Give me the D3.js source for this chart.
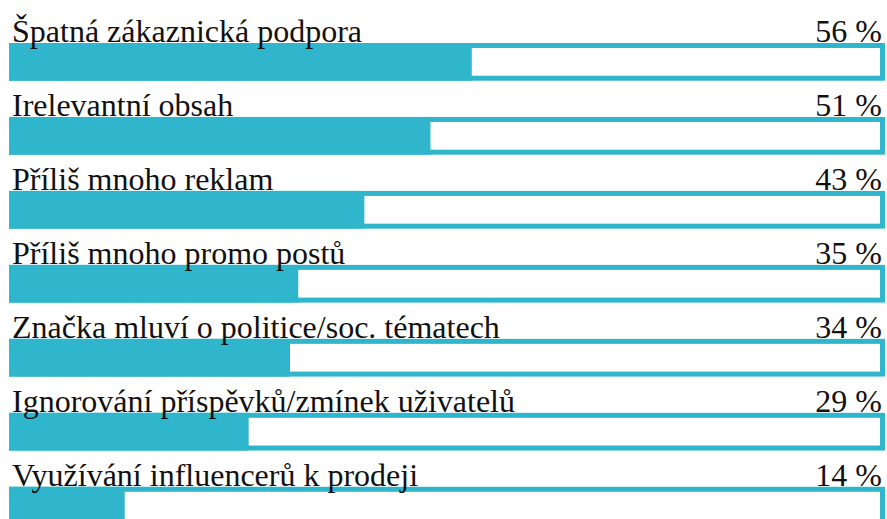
<!DOCTYPE html>
<html>
<head>
<meta charset="utf-8">
<script src="https://cdn.jsdelivr.net/npm/d3@7/dist/d3.min.js"></script>
<style>
  html, body { margin: 0; padding: 0; background: #ffffff; overflow: hidden; }
  svg { display: block; }
  text { font-family: "Liberation Serif", "Times New Roman", Times, "DejaVu Serif", serif; }
</style>
</head>
<body>
<svg id="chart" width="887" height="519"></svg>
<script>
const categories = [
  "Špatná zákaznická podpora",
  "Irelevantní obsah",
  "Příliš mnoho reklam",
  "Příliš mnoho promo postů",
  "Značka mluví o politice/soc. tématech",
  "Ignorování příspěvků/zmínek uživatelů",
  "Využívání influencerů k prodeji"
];
const values = [56, 51, 43, 35, 34, 29, 14];
const valueLabels = ["56 %", "51 %", "43 %", "35 %", "34 %", "29 %", "14 %"];

const barColor = "#2fb6cc";
const textColor = "#111111";
const svg = d3.select("#chart");

const x = d3.scaleLinear().domain([0, 106]).range([9, 885]);
const y = d3.scaleBand().domain(categories).range([43, 524.5]).paddingInner(0.49).paddingOuter(0);
const sw = 5;

const rows = svg.selectAll("g.row")
  .data(categories.map((c, i) => ({ c, v: values[i], lab: valueLabels[i] })))
  .join("g").attr("class", "row");

rows.append("rect")
  .attr("x", x(0) + sw / 2)
  .attr("y", d => y(d.c) + sw / 2)
  .attr("width", x.range()[1] - x(0) - sw)
  .attr("height", y.bandwidth() - sw)
  .attr("fill", "#ffffff")
  .attr("stroke", barColor)
  .attr("stroke-width", sw);

rows.append("rect")
  .attr("x", x(0))
  .attr("y", d => y(d.c))
  .attr("width", d => x(d.v) - x(0))
  .attr("height", y.bandwidth())
  .attr("fill", barColor);

rows.append("text")
  .attr("x", 12)
  .attr("y", d => y(d.c) - 1)
  .attr("font-size", 32)
  .attr("fill", textColor)
  .text(d => d.c);

rows.append("text")
  .attr("x", 882)
  .attr("y", d => y(d.c) - 1)
  .attr("text-anchor", "end")
  .attr("font-size", 32)
  .attr("fill", textColor)
  .text(d => d.lab);
</script>
</body>
</html>
